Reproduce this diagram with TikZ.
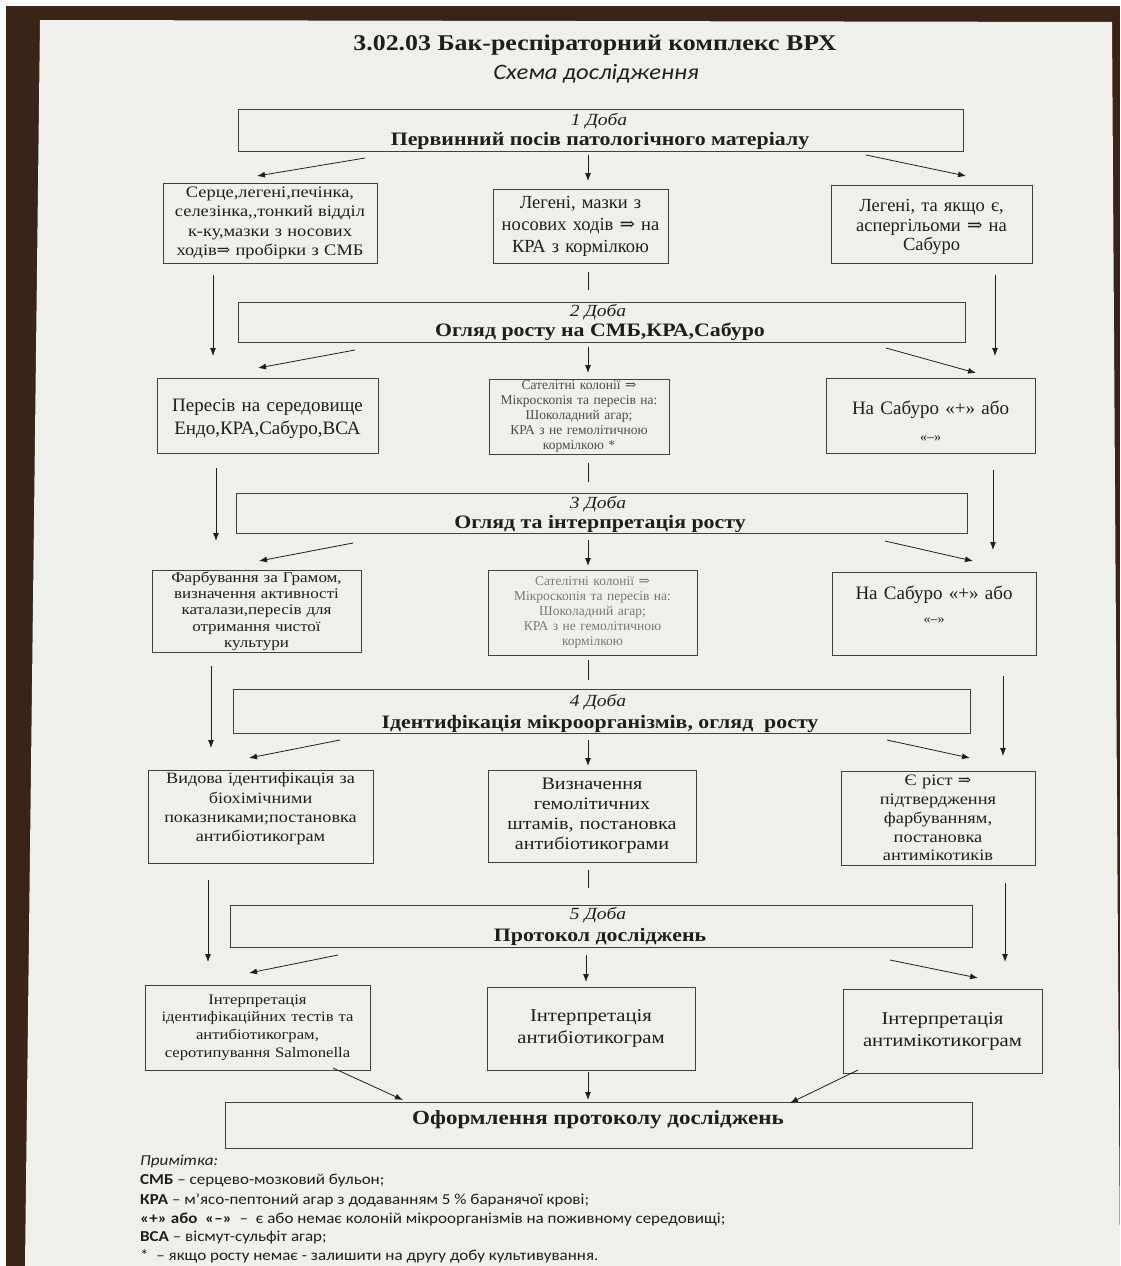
\documentclass[tikz,border=0pt]{standalone}
\usepackage{fontspec}
\setmainfont{Liberation Serif}
\newfontfamily\wideserif[FakeStretch=1.15]{Liberation Serif}
\newfontfamily\notefont[FakeStretch=1.12]{Carlito}
\newfontfamily\symfont{DejaVu Serif}
\usetikzlibrary{arrows.meta}
\newcommand\imp{{\symfont\char"21D2}}
\newcommand\fsz[2]{\fontsize{#1}{#2}\selectfont}
\definecolor{ink}{HTML}{1E1E1E}
\definecolor{paper}{HTML}{EFEFEC}
\definecolor{wood}{HTML}{3A2418}
\begin{document}
\begin{tikzpicture}[x=1pt,y=-1pt,
  box/.style={draw=ink!85, line width=0.8pt, align=center, inner xsep=2pt, inner ysep=1pt, text=ink},
  txt/.style={align=center, inner sep=0pt, text=ink},
  daybox/.style={box, line width=0.9pt},
  dayno/.style={text=ink, inner sep=0pt, font=\wideserif\itshape\fsz{17}{20}},
  dayhead/.style={text=ink, inner sep=0pt, font=\wideserif\bfseries\fsz{19}{22}},
  arr/.style={draw=ink, line width=0.8pt, -{Latex[length=8pt,width=6pt]}},
  tick/.style={draw=ink, line width=0.8pt}]
\useasboundingbox (0,0) rectangle (1120,1266);
% background and paper
\fill[wood] (0,0) rectangle (1120,1266);
\fill[white] (0,0) rectangle (1120,6);
\fill[white] (0,0) rectangle (6,1266);
\fill[paper] (40,20) -- (1112,22) -- (1120,1266) -- (25,1266) -- cycle;

% title
\node[text=ink, font=\wideserif\bfseries\fsz{22.5}{26}] (title) at (595,45) {3.02.03 Бак-респіраторний комплекс ВРХ};
\node[text=ink, font=\notefont\itshape\fsz{22}{26}] (subtitle) at (596,74) {Схема дослідження};

% day boxes
\node[daybox, minimum width=725, minimum height=42] (d1) at (600.5,130) {};
\node[dayno] (d1a) at (599,121) {1 Доба};
\node[dayhead] (d1b) at (600,141) {Первинний посів патологічного матеріалу};

\node[daybox, minimum width=727, minimum height=40] (d2) at (601.5,322) {};
\node[dayno] (d2a) at (598,312) {2 Доба};
\node[dayhead] (d2b) at (600,332) {Огляд росту на СМБ,КРА,Сабуро};

\node[daybox, minimum width=731, minimum height=40] (d3) at (601.5,513) {};
\node[dayno] (d3a) at (598,504) {3 Доба};
\node[dayhead] (d3b) at (600,524) {Огляд та інтерпретація росту};

\node[daybox, minimum width=737, minimum height=44] (d4) at (601.5,711) {};
\node[dayno] (d4a) at (598,702) {4 Доба};
\node[dayhead] (d4b) at (600,724) {Ідентифікація мікроорганізмів, огляд\ \ росту};

\node[daybox, minimum width=742, minimum height=42] (d5) at (601,926) {};
\node[dayno] (d5a) at (598,915) {5 Доба};
\node[dayhead] (d5b) at (600,937) {Протокол досліджень};

\node[daybox, minimum width=747, minimum height=46] (fin) at (598.5,1125) {};
\node[text=ink, inner sep=0pt, font=\wideserif\bfseries\fsz{20}{24}] (finb) at (598,1120) {Оформлення протоколу досліджень};

% row 1
\node[box, minimum width=214, minimum height=80, text width=210, font=\wideserif\fsz{16}{19.2}] (r1l) at (270,223)
 {Серце,легені,печінка,\\селезінка,,тонкий відділ\\к-ку,мазки з носових\\ходів\imp{} пробірки з СМБ};
\node[box, minimum width=175, minimum height=74, text width=171, font=\fsz{18.5}{22}] (r1m) at (580.5,226)
 {Легені, мазки з\\носових ходів \imp{} на\\КРА з кормілкою};
\node[box, minimum width=201, minimum height=78] (r1r) at (931.5,224) {};
\node[txt, text width=197, font=\fsz{18.5}{19.5}] (r1rt) at (931.5,227)
 {Легені, та якщо є,\\аспергільоми \imp{} на\\Сабуро};

% row 2
\node[box, minimum width=221, minimum height=75] (r2l) at (267.5,415.5) {};
\node[txt, text width=215, font=\fsz{19}{23}] (r2lt) at (267.5,419) {Пересів на середовище\\Ендо,КРА,Сабуро,ВСА};
\node[box, text=ink!80, minimum width=178, minimum height=75, text width=176, font=\fsz{13.5}{15}] (r2m) at (579,416.5)
 {Сателітні колонії \imp{}\\Мікроскопія та пересів на:\\Шоколадний агар;\\КРА з не гемолітичною\\кормілкою *};
\node[box, minimum width=209, minimum height=75] (r2r) at (930.5,415.5) {};
\node[txt, text width=205, font=\fsz{19}{27}] (r2rt) at (930.5,421) {На Сабуро «+» або\\{\fsz{14}{27}«–»}};

% row 3
\node[box, minimum width=207, minimum height=82, text width=205, font=\wideserif\fsz{14.8}{16.3}] (r3l) at (256.5,611)
 {Фарбування за Грамом,\\визначення активності\\каталази,пересів для\\отримання чистої\\культури};
\node[box, text=ink!60, minimum width=209, minimum height=85, text width=205, font=\fsz{13.5}{15}] (r3m) at (592.5,612.5)
 {Сателітні колонії \imp{}\\Мікроскопія та пересів на:\\Шоколадний агар;\\КРА з не гемолітичною\\кормілкою};
\node[box, minimum width=204, minimum height=83] (r3r) at (934,613.5) {};
\node[txt, text width=200, font=\fsz{19}{24}] (r3rt) at (934,605) {На Сабуро «+» або\\{\fsz{14}{24}«–»}};

% row 4
\node[box, minimum width=225, minimum height=93] (r4l) at (260.5,816.5) {};
\node[txt, text width=221, font=\wideserif\fsz{15.8}{19.3}] (r4lt) at (260.5,809) {Видова ідентифікація за\\біохімічними\\показниками;постановка\\антибіотикограм};
\node[box, minimum width=208, minimum height=92, text width=204, font=\wideserif\fsz{17.5}{20}] (r4m) at (592,816)
 {Визначення\\гемолітичних\\штамів, постановка\\антибіотикограми};
\node[box, minimum width=194, minimum height=94, text width=190, font=\wideserif\fsz{16}{18.8}] (r4r) at (938,818)
 {Є ріст \imp\\підтвердження\\фарбуванням,\\постановка\\антимікотиків};

% row 5
\node[box, minimum width=225, minimum height=85, text width=221, font=\wideserif\fsz{14.5}{17.8}] (r5l) at (257.5,1027.5)
 {Інтерпретація\\ідентифікаційних тестів та\\антибіотикограм,\\серотипування Salmonella};
\node[box, minimum width=208, minimum height=83, text width=204, font=\wideserif\fsz{18}{22}] (r5m) at (591,1028.5)
 {Інтерпретація\\антибіотикограм};
\node[box, minimum width=199, minimum height=84, text width=195, font=\wideserif\fsz{18}{22}] (r5r) at (942.5,1031)
 {Інтерпретація\\антимікотикограм};

% connector end points
\coordinate (a1ls) at (365,158); \coordinate (a1le) at (257,176);
\coordinate (a1ms) at (588,155); \coordinate (a1me) at (588,181);
\coordinate (a1rs) at (866,155); \coordinate (a1re) at (966,176);
\coordinate (t1s) at (588,272); \coordinate (t1e) at (588,290);
\coordinate (v1ls) at (213,275); \coordinate (v1le) at (213,356);
\coordinate (v1rs) at (995,275); \coordinate (v1re) at (995,356);

\coordinate (a2ls) at (355,350); \coordinate (a2le) at (258,368);
\coordinate (a2ms) at (588,347); \coordinate (a2me) at (588,373);
\coordinate (a2rs) at (886,348); \coordinate (a2re) at (976,373);
\coordinate (t2s) at (588,463); \coordinate (t2e) at (588,482);
\coordinate (v2ls) at (216,468); \coordinate (v2le) at (216,541);
\coordinate (v2rs) at (993,470); \coordinate (v2re) at (993,550);

\coordinate (a3ls) at (353,543); \coordinate (a3le) at (259,561);
\coordinate (a3ms) at (588,540); \coordinate (a3me) at (588,566);
\coordinate (a3rs) at (885,541); \coordinate (a3re) at (973,561);
\coordinate (t3s) at (588,660); \coordinate (t3e) at (588,680);
\coordinate (v3ls) at (211,666); \coordinate (v3le) at (211,748);
\coordinate (v3rs) at (1003,676); \coordinate (v3re) at (1003,756);

\coordinate (a4ls) at (340,740); \coordinate (a4le) at (249,758);
\coordinate (a4ms) at (588,740); \coordinate (a4me) at (588,766);
\coordinate (a4rs) at (887,740); \coordinate (a4re) at (970,758);
\coordinate (t4s) at (588,870); \coordinate (t4e) at (588,888);
\coordinate (v4ls) at (208,880); \coordinate (v4le) at (208,962);
\coordinate (v4rs) at (1005,883); \coordinate (v4re) at (1005,962);

\coordinate (a5ls) at (338,955); \coordinate (a5le) at (249,973);
\coordinate (a5ms) at (586,955); \coordinate (a5me) at (586,982);
\coordinate (a5rs) at (890,960); \coordinate (a5re) at (978,978);

\coordinate (a6ls) at (333,1068); \coordinate (a6le) at (403,1100);
\coordinate (a6ms) at (588,1072); \coordinate (a6me) at (588,1100);
\coordinate (a6rs) at (858,1070); \coordinate (a6re) at (790,1103);

\foreach \i in {1,...,6}{
  \draw[arr] (a\i ls) -- (a\i le);
  \draw[arr] (a\i ms) -- (a\i me);
  \draw[arr] (a\i rs) -- (a\i re);
}
\foreach \i in {1,...,4}{
  \draw[tick] (t\i s) -- (t\i e);
  \draw[arr] (v\i ls) -- (v\i le);
  \draw[arr] (v\i rs) -- (v\i re);
}

% notes
\begin{scope}[every node/.style={anchor=west, text=ink, font=\notefont\fsz{15.2}{19}, inner sep=0pt}]
\node (n0) at (140,1161) {\itshape Примітка:};
\node (n1) at (140,1181) {\textbf{СМБ} – серцево-мозковий бульон;};
\node (n2) at (140,1200) {\textbf{КРА} – м’ясо-пептоний агар з додаванням 5 \% баранячої крові;};
\node (n3) at (140,1219) {\textbf{«+» або\ \ «–»}\ \ – \ є або немає колоній мікроорганізмів на поживному середовищі;};
\node (n4) at (140,1238) {\textbf{ВСА} – вісмут-сульфіт агар;};
\node (n5) at (140,1256) {*\ \ – якщо росту немає - залишити на другу добу культивування.};
\end{scope}
\end{tikzpicture}
\end{document}
